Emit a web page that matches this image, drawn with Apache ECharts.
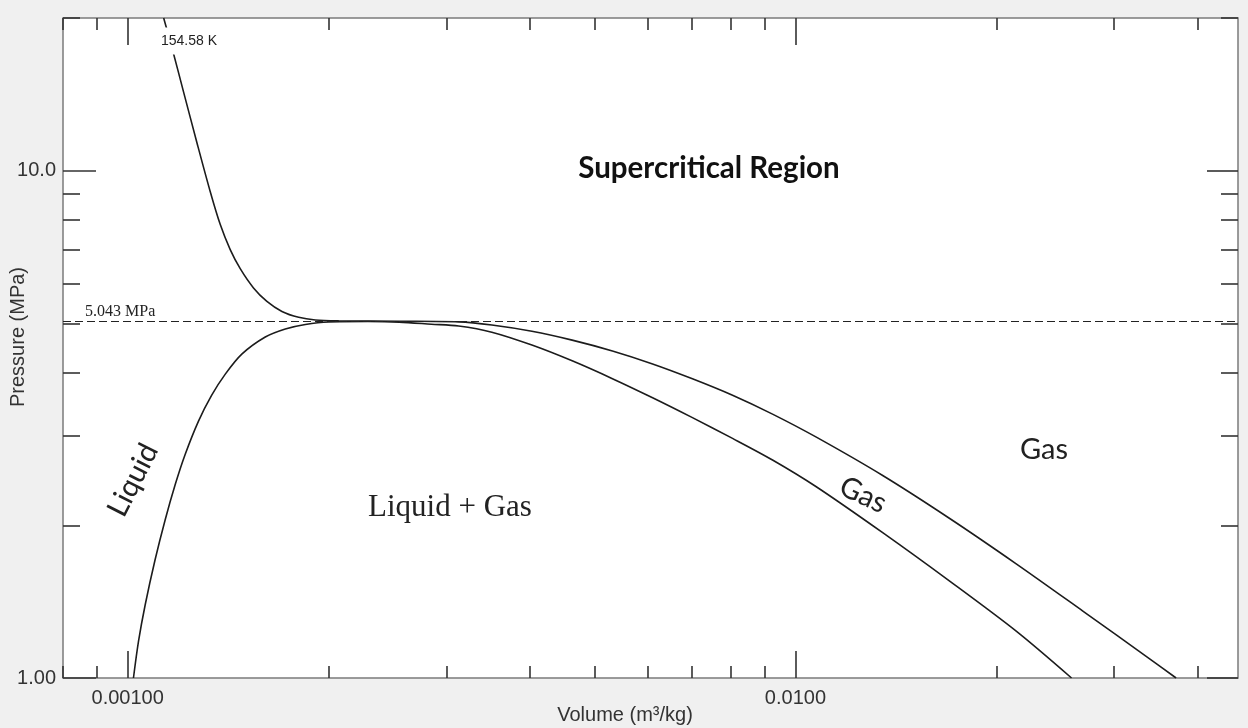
<!DOCTYPE html>
<html>
<head>
<meta charset="utf-8">
<script src="https://cdn.jsdelivr.net/npm/echarts@6/dist/echarts.min.js"></script>
<style>
  html, body { margin: 0; padding: 0; background: #f0f0f0; }
  #chart { width: 1248px; height: 728px; }
</style>
</head>
<body>
<div id="chart"></div>
<script>
// Pressure–volume diagram of oxygen on log–log axes.

const CRIT_TEMP_LABEL = '154.58 K';
const CRIT_PRESSURE = 5.043; // MPa

// Critical isotherm, from high pressure down to 1 MPa
const isothermVolume = [0.001132, 0.001167, 0.001212, 0.001269, 0.001329, 0.001376, 0.001424,
  0.001474, 0.001543, 0.001616, 0.001702, 0.001803, 0.001910, 0.00207, 0.00255, 0.00313,
  0.00351, 0.00403, 0.00463, 0.00532, 0.00611, 0.00701, 0.00805, 0.00924, 0.01073, 0.01351,
  0.01700, 0.02141, 0.02694, 0.03392, 0.03716];
const isothermPressure = [20, 17.32, 14.32, 11.38, 9.10, 7.83, 6.99,
  6.41, 5.875, 5.527, 5.280, 5.141, 5.079, 5.060, 5.050, 5.035,
  4.964, 4.825, 4.635, 4.412, 4.160, 3.889, 3.609, 3.313, 2.987, 2.507,
  2.065, 1.679, 1.355, 1.091, 1.00];

// Saturation dome: liquid branch up to the critical point, then vapour branch
const domeVolume = [0.001020, 0.001038, 0.001062, 0.001099, 0.001138, 0.001178, 0.001219,
  0.001276, 0.001336, 0.001400, 0.001482, 0.001607, 0.001722, 0.001845, 0.00200, 0.00229,
  0.00255, 0.00285, 0.00313, 0.00351, 0.00403, 0.00463, 0.00532, 0.00611, 0.00701, 0.00805,
  0.00924, 0.01073, 0.01351, 0.01700, 0.02141, 0.02591];
const domePressure = [1.00, 1.182, 1.393, 1.710, 2.051, 2.406, 2.758,
  3.206, 3.610, 3.972, 4.349, 4.700, 4.875, 4.976, 5.033, 5.043,
  5.030, 4.982, 4.941, 4.805, 4.532, 4.219, 3.891, 3.568, 3.260, 2.967,
  2.690, 2.385, 1.934, 1.554, 1.237, 1.00];

// Axis ranges and ticks
const X_RANGE = [0.0008, 0.046];
const Y_RANGE = [1, 20];
const xMinorTicks = [0.0008, 0.0009, 0.002, 0.003, 0.004, 0.005, 0.006, 0.007, 0.008, 0.009, 0.02, 0.03, 0.04];
const xMajorTicks = [0.001, 0.01];
const xTickLabels = ['0.00100', '0.0100'];
const yMinorTicks = [2, 3, 4, 5, 6, 7, 8, 9, 20];
const yMajorTicks = [1, 10];
const yTickLabels = ['1.00', '10.0'];
const X_TITLE = 'Volume (m³/kg)';
const Y_TITLE = 'Pressure (MPa)';

const lg = Math.log10;
const TICK_STYLE = { color: '#333', width: 1.6 };
const LABEL_FONT = 'Liberation Sans';
const CURVE_STYLE = { color: '#1c1c1c', width: 1.6 };

function labelFor(values, labels) {
  return v => {
    const i = values.findIndex(t => Math.abs(lg(t) - v) < 1e-6);
    return i >= 0 ? labels[i] : '';
  };
}

// Tick-only axes laid over the log axes, in log10 units
function tickAxis(position, range, ticks, len, labelOpts) {
  return {
    type: 'value',
    position: position,
    min: lg(range[0]),
    max: lg(range[1]),
    axisLine: { show: false, onZero: false },
    splitLine: { show: false },
    axisTick: { show: true, inside: true, length: len, customValues: ticks.map(lg), lineStyle: TICK_STYLE },
    axisLabel: labelOpts || { show: false },
    silent: true,
    z: 5
  };
}

const xLabel = {
  show: true, customValues: xMajorTicks.map(lg), formatter: labelFor(xMajorTicks, xTickLabels),
  margin: 10, fontFamily: LABEL_FONT, fontSize: 20, color: '#333'
};
const yLabel = {
  show: true, customValues: yMajorTicks.map(lg), formatter: labelFor(yMajorTicks, yTickLabels),
  margin: 7, fontFamily: LABEL_FONT, fontSize: 20, color: '#333'
};

const chart = echarts.init(document.getElementById('chart'), null, { renderer: 'canvas' });

chart.setOption({
  backgroundColor: '#f0f0f0',
  animation: false,
  grid: {
    left: 63, top: 18, right: 10, bottom: 50,
    containLabel: false, outerBoundsMode: 'none',
    show: true, backgroundColor: '#ffffff', borderColor: '#7b7b7b', borderWidth: 1.5
  },
  xAxis: [
    { type: 'log', logBase: 10, min: X_RANGE[0], max: X_RANGE[1], show: false, axisLine: { onZero: false } },
    tickAxis('bottom', X_RANGE, xMinorTicks, 12),
    tickAxis('bottom', X_RANGE, xMajorTicks, 27, xLabel),
    tickAxis('top', X_RANGE, xMinorTicks, 12),
    tickAxis('top', X_RANGE, xMajorTicks, 27)
  ],
  yAxis: [
    { type: 'log', logBase: 10, min: Y_RANGE[0], max: Y_RANGE[1], show: false, axisLine: { onZero: false } },
    tickAxis('left', Y_RANGE, yMinorTicks, 17),
    tickAxis('left', Y_RANGE, yMajorTicks, 33, yLabel),
    tickAxis('right', Y_RANGE, yMinorTicks, 17),
    tickAxis('right', Y_RANGE, yMajorTicks, 31)
  ],
  series: [
    {
      name: 'Saturation dome',
      type: 'line',
      xAxisIndex: 0, yAxisIndex: 0,
      data: domeVolume.map((v, i) => [v, domePressure[i]]),
      showSymbol: false,
      smooth: 0.3,
      lineStyle: CURVE_STYLE,
      z: 3,
      markLine: {
        silent: true,
        symbol: 'none',
        data: [{ yAxis: CRIT_PRESSURE }],
        lineStyle: { type: [8, 4], color: '#222', width: 1.2 },
        label: {
          show: true,
          position: 'insideStartTop',
          distance: [22, 2],
          formatter: CRIT_PRESSURE.toFixed(3) + ' MPa',
          fontFamily: 'Liberation Serif',
          fontSize: 16,
          color: '#222'
        }
      }
    },
    {
      name: CRIT_TEMP_LABEL,
      type: 'line',
      xAxisIndex: 0, yAxisIndex: 0,
      data: isothermVolume.map((v, i) => [v, isothermPressure[i]]),
      showSymbol: false,
      smooth: 0.3,
      lineStyle: CURVE_STYLE,
      z: 3
    }
  ],
  graphic: [
    {
      type: 'text', x: 18, y: 337, z: 100, rotation: Math.PI / 2,
      style: { text: Y_TITLE, font: '20px "Liberation Sans"', fill: '#333', align: 'center', verticalAlign: 'middle' }
    },
    {
      type: 'text', x: 625, y: 715, z: 100,
      style: { text: X_TITLE, font: '20px "Liberation Sans"', fill: '#333', align: 'center', verticalAlign: 'middle' }
    },
    {
      type: 'text', x: 189, y: 41, z: 100,
      style: {
        text: CRIT_TEMP_LABEL, font: '14px "Liberation Sans"', fill: '#222',
        align: 'center', verticalAlign: 'middle', backgroundColor: '#ffffff', padding: [7, 2, 6, 2]
      }
    },
    {
      type: 'text', x: 709, y: 168, z: 100,
      style: { text: 'Supercritical Region', font: 'bold 29.5px Lato', fill: '#111', align: 'center', verticalAlign: 'middle' }
    },
    {
      type: 'text', x: 1044, y: 450, z: 100,
      style: { text: 'Gas', font: '29px Lato', fill: '#222', align: 'center', verticalAlign: 'middle' }
    },
    {
      type: 'text', x: 863, y: 495, z: 100, rotation: -25 * Math.PI / 180,
      style: { text: 'Gas', font: '29px Lato', fill: '#222', align: 'center', verticalAlign: 'middle' }
    },
    {
      type: 'text', x: 133, y: 480, z: 100, rotation: 63 * Math.PI / 180,
      style: { text: 'Liquid', font: '29px Lato', fill: '#222', align: 'center', verticalAlign: 'middle' }
    },
    {
      type: 'text', x: 450, y: 508, z: 100,
      style: { text: 'Liquid + Gas', font: '31px "Liberation Serif"', fill: '#222', align: 'center', verticalAlign: 'middle' }
    }
  ]
});
</script>
</body>
</html>
